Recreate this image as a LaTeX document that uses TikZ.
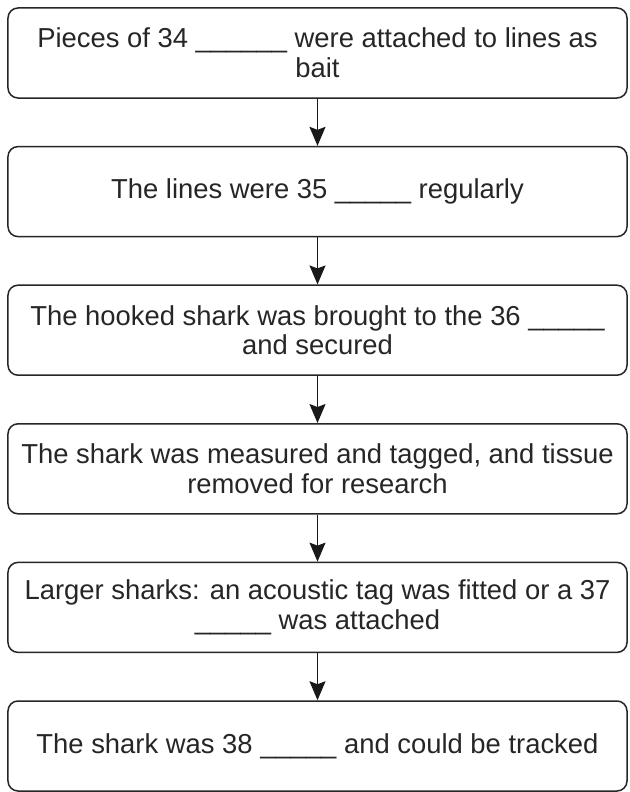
\documentclass[tikz,border=0pt]{standalone}
\usepackage{fontspec}
\setmainfont{Liberation Sans}
\usetikzlibrary{arrows.meta}
\begin{document}
\begin{tikzpicture}[x=1bp,y=-1bp,
  stepbox/.style={draw=black!85, line width=1.5bp, rounded corners=10bp, minimum width=619bp, minimum height=90bp, inner sep=0pt, align=center, font=\fontsize{27.5}{30}\selectfont, text=black!85},
  conn/.style={draw=black!90, line width=1.6bp, -{Stealth[width=16bp,length=19bp,inset=3bp]}}]
\useasboundingbox (0,0) rectangle (630,792);
\fill[white] (0,0) rectangle (630,792);
\node[stepbox] (b1) at (317.5,53) {Pieces of 34 \_\_\_\_\_\_ were attached to lines as\\bait};
\node[stepbox] (b2) at (317.5,191.6) {The lines were 35 \_\_\_\_\_ regularly};
\node[stepbox] (b3) at (317.5,330.2) {The hooked shark was brought to the 36 \_\_\_\_\_\\and secured};
\node[stepbox] (b4) at (317.5,468.8) {The shark was measured and tagged, and tissue\\removed for research};
\node[stepbox] (b5) at (317.5,607.4) {Larger sharks: an acoustic tag was fitted or a 37\\\_\_\_\_\_ was attached};
\node[stepbox] (b6) at (317.5,746) {The shark was 38 \_\_\_\_\_ and could be tracked};
\foreach \a/\b in {b1/b2,b2/b3,b3/b4,b4/b5,b5/b6}
  \draw[conn] (\a.south) -- (\b.north);
\end{tikzpicture}
\end{document}
